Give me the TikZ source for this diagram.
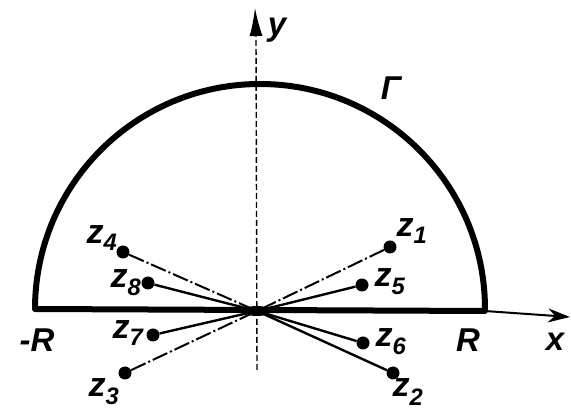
\documentclass[tikz,border=0pt]{standalone}
\usepackage{fontspec}
\setmainfont{Liberation Sans}
\usetikzlibrary{arrows.meta}
\begin{document}
\begin{tikzpicture}[x=1pt,y=-1pt,
  lbl/.style={font=\fontsize{33}{33}\selectfont\bfseries\itshape, inner sep=0pt},
  zlbl/.style={font=\fontsize{34}{34}\selectfont\bfseries\itshape, inner sep=0pt},
  dot/.style={circle, fill=black, inner sep=0pt, minimum size=13pt},
  ray/.style={line width=2.4pt},
  rayd/.style={line width=2pt, dash pattern=on 16pt off 3pt on 2pt off 3pt},
  contour/.style={line width=6pt, line cap=round, line join=round},
  axis/.style={line width=2pt},
  yaxis/.style={line width=1.4pt, dash pattern=on 6pt off 3pt}]
\useasboundingbox (0,0) rectangle (571,411);
% key points
\coordinate (O) at (257,311);
\coordinate (mR) at (35,309);
\coordinate (pR) at (485,311);
\coordinate (xe) at (570,317);
\coordinate (yb) at (257,370);
\coordinate (yt) at (256,36);
\coordinate (ye) at (255,8);
% axes
\draw[axis, -{Stealth[length=22pt,width=14pt]}] (pR) -- (xe);
\draw[yaxis] (yb) -- (yt);
\draw[line width=1.4pt, -{Latex[length=28pt,width=13pt]}] (yt) -- (ye);
% contour
\draw[contour] (pR) -- (mR) arc[start angle=180, end angle=360, radius=225];
% points
\node[dot] (z1) at (390,247) {};
\node[dot] (z5) at (362,285) {};
\node[dot] (z6) at (363,343) {};
\node[dot] (z2) at (393,373) {};
\node[dot] (z4) at (123,252) {};
\node[dot] (z8) at (148,283) {};
\node[dot] (z7) at (153,335) {};
\node[dot] (z3) at (125,373) {};
% rays
\draw[rayd] (z1) -- (O);
\draw[ray] (z5) -- (O);
\draw[ray] (z6) -- (O);
\draw[ray] (z2) -- (O);
\draw[rayd] (z4) -- (O);
\draw[ray] (z8) -- (O);
\draw[ray] (z7) -- (O);
\draw[rayd] (z3) -- (O);
\fill (O) ellipse[x radius=14pt, y radius=5pt];
% labels
\node[zlbl] (lz1) at (412,231) {z\textsubscript{1}};
\node[zlbl] (lz5) at (390,282) {z\textsubscript{5}};
\node[zlbl] (lz6) at (391,342) {z\textsubscript{6}};
\node[zlbl] (lz2) at (408,392) {z\textsubscript{2}};
\node[zlbl] (lz4) at (102,238) {z\textsubscript{4}};
\node[zlbl] (lz8) at (126,283) {z\textsubscript{8}};
\node[zlbl] (lz7) at (128,333) {z\textsubscript{7}};
\node[zlbl] (lz3) at (104,392) {z\textsubscript{3}};
\node[lbl] (lmR) at (37,340) {-R};
\node[lbl] (lpR) at (468,340) {R};
\node[lbl] (lx) at (555,342) {x};
\node[lbl] (ly) at (277,30) {y};
\node[lbl] (lG) at (391,88) {Γ};
\end{tikzpicture}
\end{document}
